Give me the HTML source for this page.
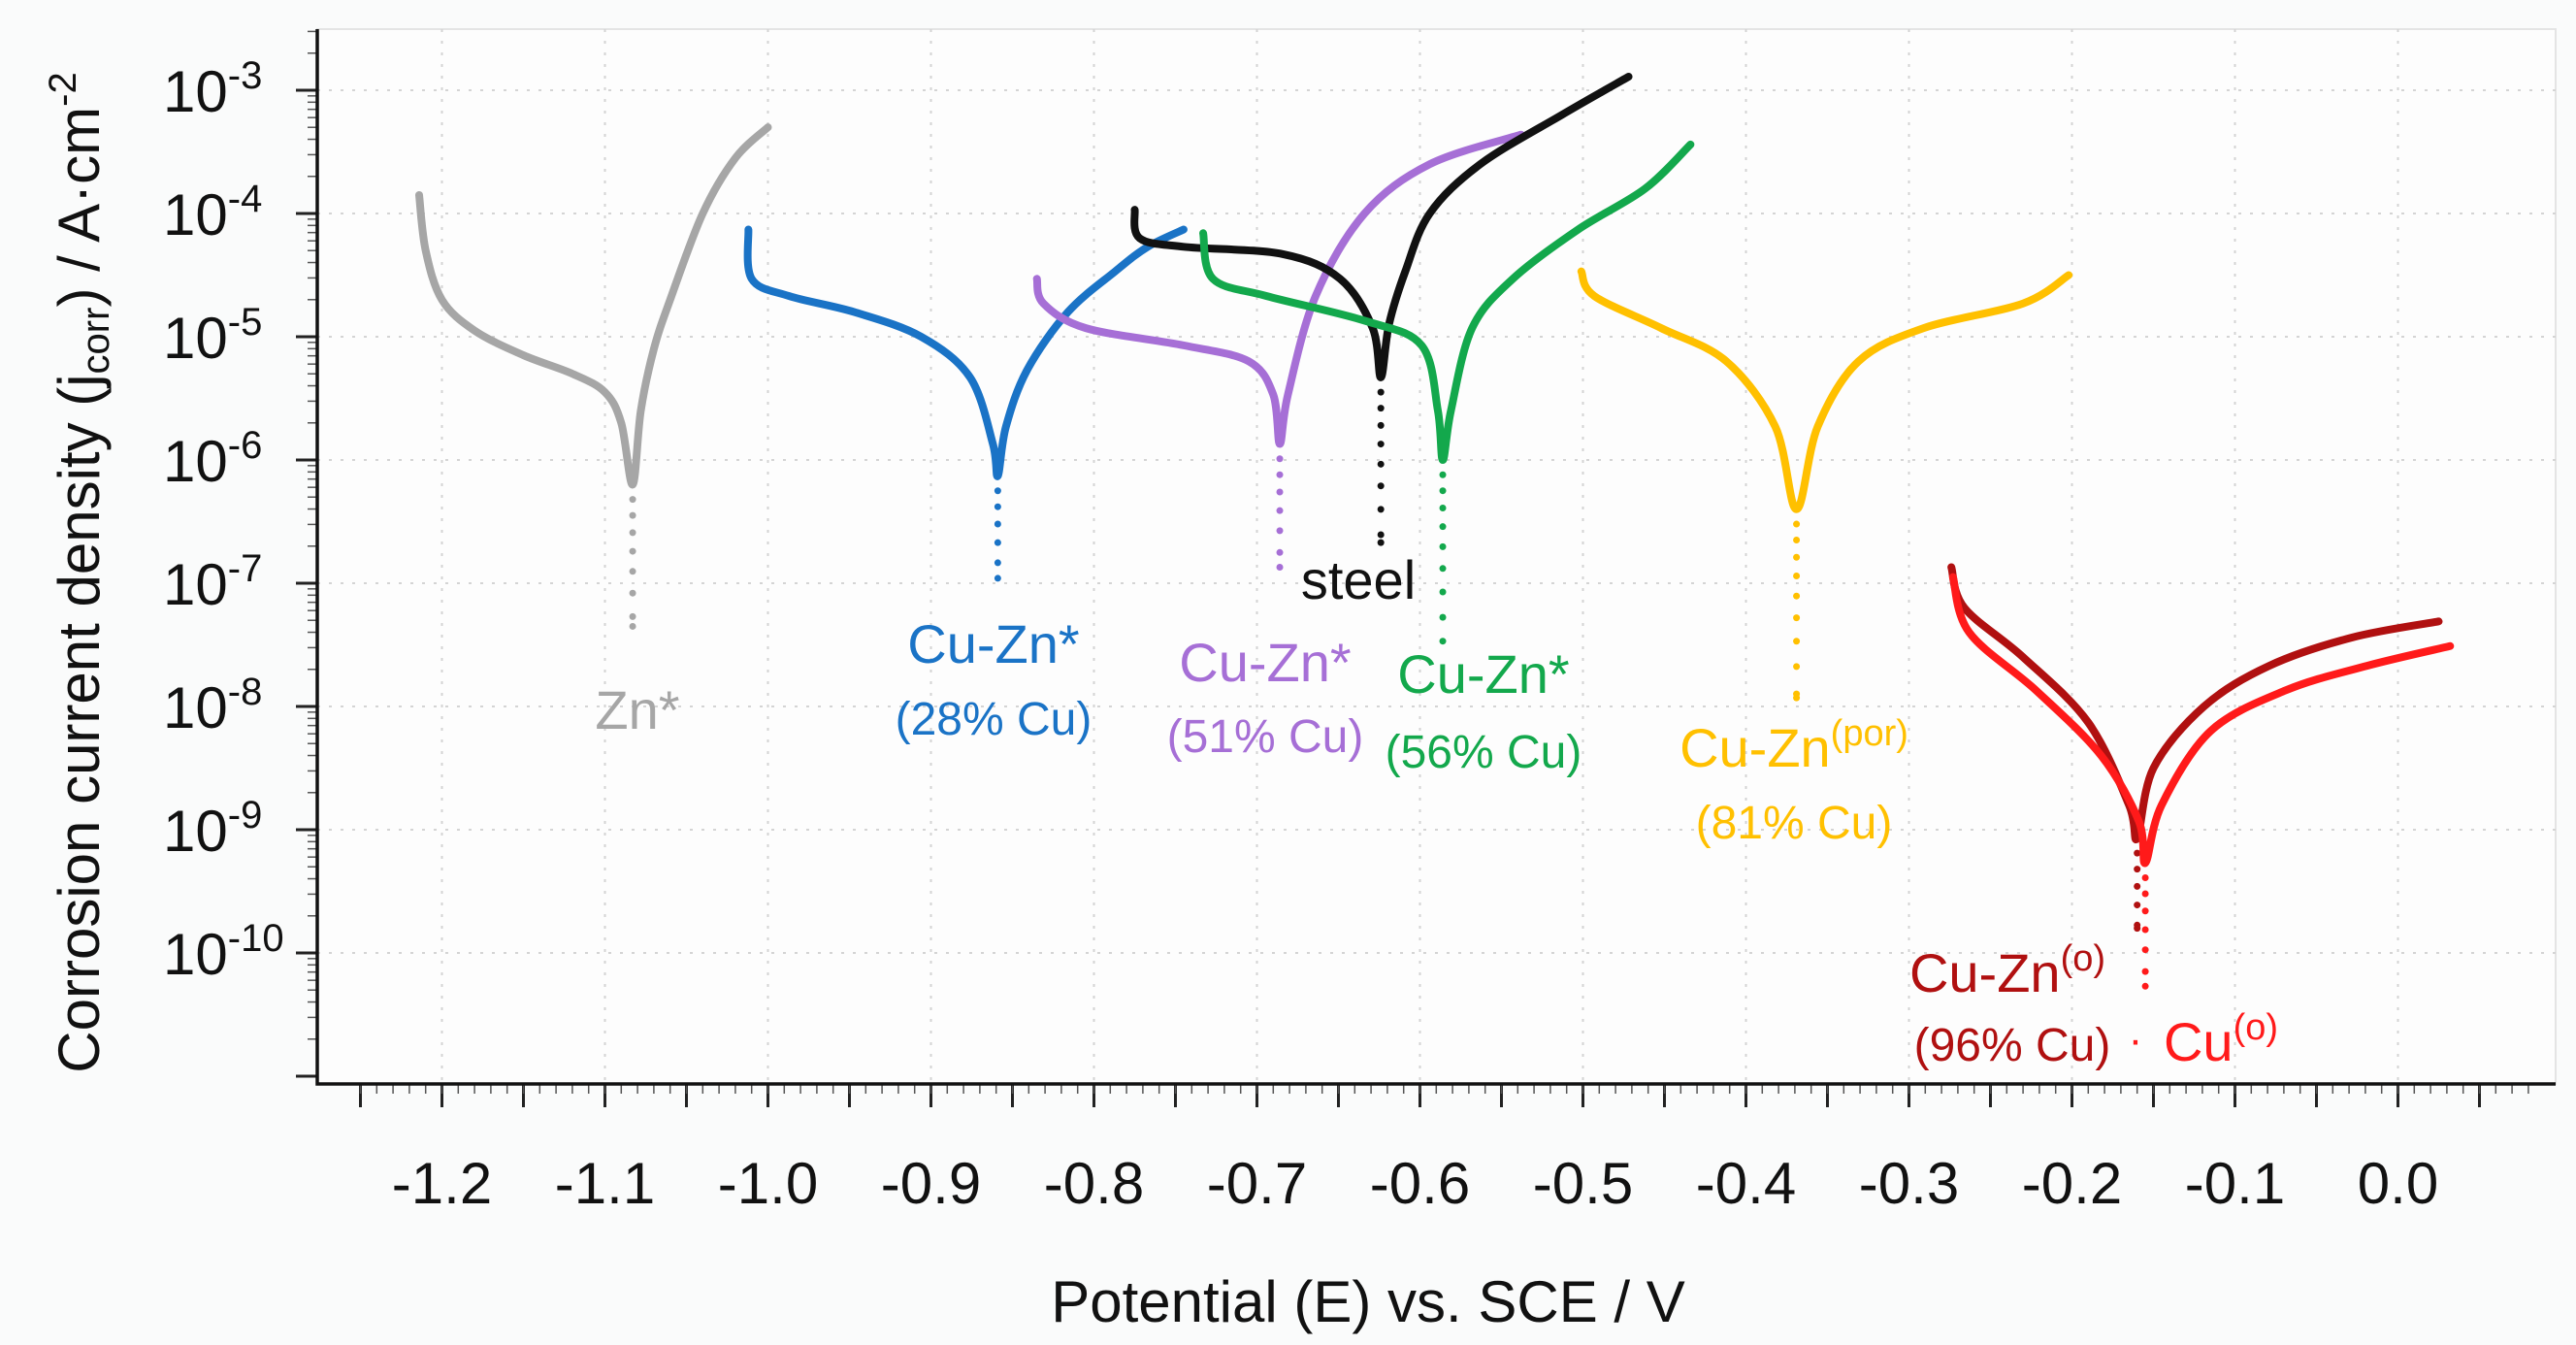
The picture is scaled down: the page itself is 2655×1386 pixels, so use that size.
<!DOCTYPE html>
<html><head><meta charset="utf-8"><style>
html,body{margin:0;padding:0;background:#fafbfb;}
svg{display:block;font-family:"Liberation Sans",sans-serif;}
</style></head><body>
<svg id="chart" width="2655" height="1386" viewBox="0 0 2655 1386" xmlns="http://www.w3.org/2000/svg">
<rect x="0" y="0" width="2655" height="1386" fill="#fafbfb"/>
<rect x="327" y="30" width="2307" height="1087" fill="#fdfdfd" stroke="#e4e4e4" stroke-width="2"/>
<g id="grid"></g>
<g id="axes"></g>
<g id="series"></g>
<g id="labels" font-size="56">
<text x="657" y="751" fill="#a6a6a6" text-anchor="middle">Zn*</text>
<text x="1024" y="683" fill="#1a73c6" text-anchor="middle">Cu-Zn*</text>
<text x="1024" y="757" fill="#1a73c6" text-anchor="middle" font-size="48">(28% Cu)</text>
<text x="1400" y="617" fill="#111" text-anchor="middle">steel</text>
<text x="1304" y="702" fill="#a66fd6" text-anchor="middle">Cu-Zn*</text>
<text x="1304" y="775" fill="#a66fd6" text-anchor="middle" font-size="48">(51% Cu)</text>
<text x="1529" y="714" fill="#13a84c" text-anchor="middle">Cu-Zn*</text>
<text x="1529" y="791" fill="#13a84c" text-anchor="middle" font-size="48">(56% Cu)</text>
<text x="1849" y="790" fill="#ffc000" text-anchor="middle">Cu-Zn<tspan dy="-22" font-size="38">(por)</tspan></text>
<text x="1849" y="864" fill="#ffc000" text-anchor="middle" font-size="48">(81% Cu)</text>
<text x="2069" y="1022" fill="#b01010" text-anchor="middle">Cu-Zn<tspan dy="-22" font-size="38">(o)</tspan></text>
<text x="2074" y="1093" fill="#b01010" text-anchor="middle" font-size="48">(96% Cu)</text>
<text x="2201" y="1086" fill="#ff1a1a" text-anchor="middle" font-size="44">·</text>
<text x="2289" y="1093" fill="#ff1a1a" text-anchor="middle">Cu<tspan dy="-22" font-size="38">(o)</tspan></text>
</g>
<text x="1410" y="1362" font-size="60" fill="#111" text-anchor="middle">Potential (E) vs. SCE / V</text>
<text transform="translate(102,590) rotate(-90)" font-size="60" fill="#111" text-anchor="middle">Corrosion current density (j<tspan font-size="40" dy="10">corr</tspan><tspan dy="-10">) / A·cm</tspan><tspan font-size="40" dy="-24">-2</tspan></text>
</svg>
<script>
const xTicks=[-1.2,-1.1,-1.0,-0.9,-0.8,-0.7,-0.6,-0.5,-0.4,-0.3,-0.2,-0.1,0.0];
const xTickLabels=["-1.2","-1.1","-1.0","-0.9","-0.8","-0.7","-0.6","-0.5","-0.4","-0.3","-0.2","-0.1","0.0"];
const yTicks=[-3,-4,-5,-6,-7,-8,-9,-10];
const yTickLabels=["-3","-4","-5","-6","-7","-8","-9","-10"];
const seriesNames=["zn","cuzn-28","cuzn-51","steel","cuzn-56","cuzn-por","cuzn-o","cu-o"];
const seriesColors=["#a6a6a6","#1a73c6","#a66fd6","#111111","#13a84c","#ffc000","#b01010","#ff1a1a"];
const zn_E=[-1.214,-1.21,-1.20,-1.18,-1.15,-1.12,-1.10,-1.09,-1.083,-1.078,-1.07,-1.06,-1.04,-1.02,-1.00];
const zn_J=[-3.85,-4.3,-4.7,-4.95,-5.15,-5.3,-5.45,-5.7,-6.2,-5.6,-5.1,-4.7,-4.0,-3.55,-3.3];
const cz28_E=[-1.012,-1.010,-0.987,-0.947,-0.906,-0.876,-0.862,-0.859,-0.854,-0.841,-0.816,-0.787,-0.767,-0.745];
const cz28_J=[-4.13,-4.53,-4.67,-4.8,-5.0,-5.33,-5.87,-6.13,-5.73,-5.27,-4.8,-4.47,-4.27,-4.13];
const cz51_E=[-0.835,-0.831,-0.805,-0.745,-0.705,-0.690,-0.686,-0.681,-0.664,-0.634,-0.594,-0.538];
const cz51_J=[-4.53,-4.73,-4.93,-5.07,-5.2,-5.47,-5.87,-5.47,-4.67,-4.0,-3.6,-3.36];
const steel_E=[-0.775,-0.772,-0.745,-0.684,-0.649,-0.629,-0.624,-0.619,-0.609,-0.594,-0.563,-0.513,-0.472];
const steel_J=[-3.97,-4.2,-4.27,-4.33,-4.53,-4.93,-5.33,-4.9,-4.47,-4.0,-3.6,-3.2,-2.89];
const cz56_E=[-0.733,-0.727,-0.694,-0.634,-0.599,-0.589,-0.586,-0.581,-0.568,-0.543,-0.503,-0.462,-0.434];
const cz56_J=[-4.16,-4.53,-4.67,-4.87,-5.07,-5.6,-6.0,-5.6,-4.93,-4.53,-4.13,-3.8,-3.44];
const por_E=[-0.501,-0.493,-0.452,-0.412,-0.382,-0.369,-0.356,-0.331,-0.291,-0.230,-0.202];
const por_J=[-4.47,-4.67,-4.93,-5.2,-5.73,-6.4,-5.73,-5.2,-4.93,-4.73,-4.5];
const czo_E=[-0.274,-0.266,-0.230,-0.190,-0.165,-0.160,-0.150,-0.119,-0.079,-0.028,0.025];
const czo_J=[-6.87,-7.2,-7.6,-8.13,-8.8,-9.07,-8.5,-8.0,-7.67,-7.44,-7.31];
const cuo_E=[-0.273,-0.263,-0.222,-0.182,-0.159,-0.155,-0.145,-0.115,-0.069,-0.019,0.032];
const cuo_J=[-6.95,-7.4,-7.87,-8.4,-8.93,-9.27,-8.8,-8.2,-7.87,-7.67,-7.51];
const minDotE=[-1.083,-0.859,-0.686,-0.624,-0.586,-0.369,-0.160,-0.155];
const minDotJ=[-7.35,-6.96,-6.87,-6.67,-7.47,-7.93,-9.8,-10.27];
const seriesE=[zn_E,cz28_E,cz51_E,steel_E,cz56_E,por_E,czo_E,cuo_E];
const seriesJ=[zn_J,cz28_J,cz51_J,steel_J,cz56_J,por_J,czo_J,cuo_J];

const NS="http://www.w3.org/2000/svg";
const X0=455.5, XPER=1680, Y0=93, YPER=127, AXL=327, AXB=1117, PR=2634, PT=30;
function xs(e){return X0+(e+1.2)*XPER;}
function ys(l){return Y0+(-3-l)*YPER;}
function mk(tag,attrs,parent){const el=document.createElementNS(NS,tag);for(const k in attrs)el.setAttribute(k,attrs[k]);parent.appendChild(el);return el;}
const grid=document.getElementById('grid'),axes=document.getElementById('axes'),ser=document.getElementById('series');
for(let i=0;i<xTicks.length;i++){
  const x=xs(xTicks[i]);
  const g=mk('line',{x1:x,x2:x,y1:PT,y2:AXB,stroke:'#d4d4d4','stroke-width':2,'stroke-dasharray':'3 9'},grid);
  
  
  const lb=mk('text',{x:x,y:1240,'font-size':60,fill:'#111','text-anchor':'middle'},axes);
  lb.textContent=xTickLabels[i];
  
  
}
for(let e=-1.25;e<=0.09;e+=0.05){const x=xs(e);const t=mk('line',{x1:x,x2:x,y1:AXB,y2:AXB+24,stroke:'#222','stroke-width':3},axes);}
for(let e=-1.25;e<=0.09;e+=0.01){const x=xs(e);mk('line',{x1:x,x2:x,y1:AXB,y2:AXB+10,stroke:'#555','stroke-width':1.5},axes);}
for(let i=0;i<yTicks.length;i++){
  const y=ys(yTicks[i]);
  const g=mk('line',{x1:AXL,x2:PR,y1:y,y2:y,stroke:'#d4d4d4','stroke-width':2,'stroke-dasharray':'3 9'},grid);
  
  
  const t=mk('line',{x1:AXL-22,x2:AXL,y1:y,y2:y,stroke:'#222','stroke-width':3},axes);
  
  
  const lb=mk('text',{x:168,y:y+22,'font-size':60,fill:'#111'},axes);
  lb.textContent='10';
  const sp=document.createElementNS(NS,'tspan');sp.setAttribute('dy','-24');sp.setAttribute('font-size','40');sp.textContent=yTickLabels[i];lb.appendChild(sp);
  
  
}
{const y=ys(-11);const t=mk('line',{x1:AXL-22,x2:AXL,y1:y,y2:y,stroke:'#222','stroke-width':3},axes);}
for(let d=-11;d<-2;d++){for(let m=2;m<10;m++){const l=d+Math.log10(m);const y=ys(l);if(y<PT||y>AXB)continue;mk('line',{x1:AXL-10,x2:AXL,y1:y,y2:y,stroke:'#555','stroke-width':1.5},axes);}}
const ax=mk('path',{d:`M${AXL},${PT} L${AXL},${AXB} L${PR},${AXB}`,fill:'none',stroke:'#111','stroke-width':3.5},axes);


function smooth(pts){let d=`M${pts[0][0]},${pts[0][1]}`;for(let i=0;i<pts.length-1;i++){const p0=pts[i-1]||pts[i],p1=pts[i],p2=pts[i+1],p3=pts[i+2]||p2;const c1x=p1[0]+(p2[0]-p0[0])/6,c1y=p1[1]+(p2[1]-p0[1])/6,c2x=p2[0]-(p3[0]-p1[0])/6,c2y=p2[1]-(p3[1]-p1[1])/6;d+=` C${c1x},${c1y} ${c2x},${c2y} ${p2[0]},${p2[1]}`;}return d;}
for(let s=0;s<seriesE.length;s++){
  const pts=seriesE[s].map((e,i)=>[xs(e),ys(seriesJ[s][i])]);
  const p=mk('path',{d:smooth(pts),fill:'none',stroke:seriesColors[s],'stroke-width':8,'stroke-linecap':'round','stroke-linejoin':'round'},ser);
  
  
  let minJ=Math.min(...seriesJ[s]);
  for(let l=minJ-0.12;l>minDotJ[s];l-=0.12+(minJ-l)*0.08){
    const c=mk('circle',{cx:xs(minDotE[s]),cy:ys(l),r:3.5,fill:seriesColors[s]},ser);
    
    
  }
  const c=mk('circle',{cx:xs(minDotE[s]),cy:ys(minDotJ[s]),r:3.5,fill:seriesColors[s]},ser);
  
  
}
</script>
</body></html>
